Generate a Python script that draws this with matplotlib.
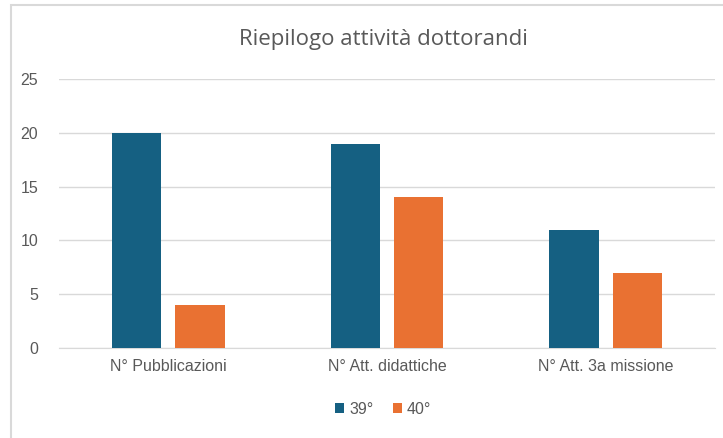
import matplotlib.pyplot as plt
from matplotlib.patches import Rectangle
import numpy as np

categories = ["N° Pubblicazioni", "N° Att. didattiche", "N° Att. 3a missione"]
serie_39 = [20, 19, 11]
serie_40 = [4, 14, 7]
labels = ["39°", "40°"]

plt.rcParams['font.family'] = ['Liberation Sans', 'DejaVu Sans']

fig = plt.figure(figsize=(7.23, 4.38), dpi=100)
ax = fig.add_axes([59/723, 1-348/438, (715-59)/723, (348-79)/438])

# bordo del grafico
fig.patches.append(Rectangle((11/723, -0.01), 1.0, 1-5/438+0.01, transform=fig.transFigure,
                             fill=False, edgecolor="#d9d9d9", lw=1.5))

x = np.arange(len(categories))
w = 0.225
off = 0.145
ax.bar(x - off, serie_39, w, color="#156082", label=labels[0], zorder=3)
ax.bar(x + off, serie_40, w, color="#E97132", label=labels[1], zorder=3)

ax.set_xlim(-0.5, 2.5)
ax.set_ylim(0, 25)
ax.set_yticks(range(0, 26, 5))
ax.yaxis.grid(True, color="#d9d9d9", lw=1, zorder=0)
for s in ["top", "right", "left"]:
    ax.spines[s].set_visible(False)
ax.spines["bottom"].set_color("#d9d9d9")
ax.tick_params(axis="both", length=0, colors="#595959", labelsize=11.5)
ax.tick_params(axis="y", pad=15)
ax.tick_params(axis="x", pad=8)
ax.set_xticks(x)
ax.set_xticklabels(categories)

fig.text(383/723, 1-40/438, "Riepilogo attività dottorandi", ha="center", va="center",
         fontsize=16, color="#595959", family=["Open Sans", "DejaVu Sans"])

fig.legend(loc="center", bbox_to_anchor=(383/723, 1-409/438), ncol=2, frameon=False,
           fontsize=11.5, labelcolor="#595959", handlelength=0.6, handleheight=0.6,
           handletextpad=0.3, columnspacing=1.2)

fig.savefig("out.png", dpi=100)
